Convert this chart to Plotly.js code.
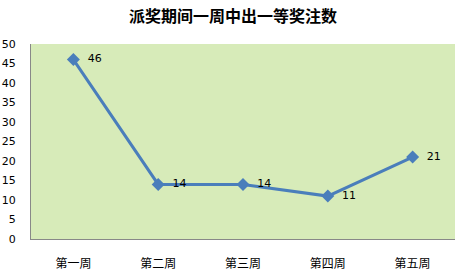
<!DOCTYPE html>
<html><head><meta charset="utf-8">
<script src="https://cdn.plot.ly/plotly-3.0.1.min.js"></script>
<style>html,body{margin:0;padding:0;background:#fff}#c{width:466px;height:276px}</style>
</head><body><div id="c"></div>
<script>
const categories = ['第一周','第二周','第三周','第四周','第五周'];
const values = [46, 14, 14, 11, 21];
const yTicks = [0,5,10,15,20,25,30,35,40,45,50];

Plotly.newPlot('c', [{
  x: categories, y: values, type: 'scatter', mode: 'lines+markers+text',
  line: {color: '#4a7ebb', width: 3},
  marker: {symbol: 'diamond', size: 10, color: '#4a7ebb'},
  text: values.map(v => '\u00a0\u00a0' + v), textposition: 'middle right',
  textfont: {family: 'DejaVu Sans, sans-serif', size: 11, color: '#000'},
  cliponaxis: false, hoverinfo: 'none'
}], {
  width: 466, height: 276,
  margin: {l: 31, r: 11, t: 44, b: 37},
  paper_bgcolor: '#fff', plot_bgcolor: '#d7ebb9',
  title: {text: '<b>派奖期间一周中出一等奖注数</b>', x: 0.5, xanchor: 'center', y: 0.94, yanchor: 'middle',
          font: {family: 'Noto Sans CJK SC, sans-serif', size: 16, color: '#000'}},
  showlegend: false,
  xaxis: {type: 'category', range: [-0.5, 4.5], showgrid: false, zeroline: false,
          showline: true, linecolor: '#888', linewidth: 1,
          tickfont: {family: 'Noto Sans CJK SC, sans-serif', size: 12, color: '#000'},
          ticks: '', ticklabelstandoff: 14, fixedrange: true},
  yaxis: {range: [0, 50], tickvals: yTicks, showgrid: false, zeroline: false,
          showline: true, linecolor: '#888', linewidth: 1,
          tickfont: {family: 'DejaVu Sans, sans-serif', size: 11, color: '#000'},
          ticks: '', ticklabelstandoff: 12, fixedrange: true}
}, {staticPlot: true});
</script></body></html>
